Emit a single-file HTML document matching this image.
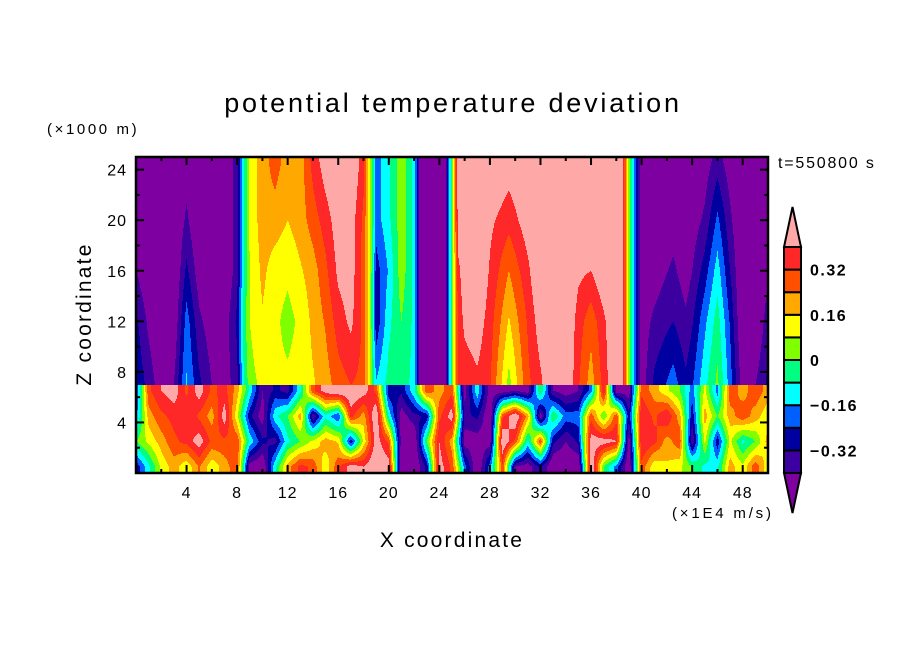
<!DOCTYPE html>
<html><head><meta charset="utf-8"><style>
body{margin:0;background:#fff;width:904px;height:654px;overflow:hidden;position:relative;font-family:"Liberation Sans",sans-serif}
#plot{position:absolute;left:136px;top:157px;width:632px;height:316px;image-rendering:pixelated}
svg{position:absolute;left:0;top:0}
text{font-family:"Liberation Sans",sans-serif;fill:#000}
</style></head><body>
<canvas id="plot" width="632" height="316"></canvas>
<svg id="ov" width="904" height="654">
<text x="453" y="112" font-size="27" text-anchor="middle" letter-spacing="2.8">potential temperature deviation</text>
<text x="47" y="134" font-size="15" letter-spacing="2.6">(×1000 m)</text>
<text x="778" y="168" font-size="16" letter-spacing="1.8">t=550800 s</text>
<text x="672" y="518" font-size="15" letter-spacing="2.8">(×1E4 m/s)</text>
<text x="452" y="547" font-size="21" text-anchor="middle" letter-spacing="2.2">X coordinate</text>
<text transform="translate(91,314) rotate(-90)" font-size="21" text-anchor="middle" letter-spacing="2.2">Z coordinate</text>
<g id="axes"></g><g id="cbar"></g>
</svg>
<script>
// ---- data (field value in K) ----
const upX=[0,1,2,3,4,5,6,7,8,8.5,9,10,11,12,13,14,15,16,17,18,18.5,19,20,21,22,22.5,23,24,24.5,25,25.5,26,27,28,29.5,31,32,33,34,35,36,37,38,38.5,39,40,41,42.5,43.5,44,45,46,47,48,49,50];
const upZ=[7,12,16,20,24.7];
const up8=[-0.25,-0.35,-0.45,-0.4,-0.15,-0.3,-0.4,-0.45,-0.35,-0.1,0.05,0.1,0.1,0.1,0.12,0.15,0.2,0.28,0.32,0.3,0.1,-0.15,-0.05,-0.05,-0.1,-0.45,-0.5,-0.5,-0.4,0.0,0.35,0.35,0.38,0.33,0.05,0.3,0.38,0.5,0.5,0.33,0.2,0.35,0.5,0.42,0.05,-0.45,-0.3,-0.2,-0.3,-0.25,-0.1,0.02,-0.2,-0.45,-0.4,-0.3];
const up12=[-0.3,-0.42,-0.5,-0.48,-0.2,-0.38,-0.45,-0.45,-0.3,-0.05,0.08,0.15,0.1,0.05,0.1,0.18,0.25,0.36,0.42,0.3,0.1,-0.3,-0.1,0.0,-0.1,-0.45,-0.5,-0.5,-0.4,0.0,0.35,0.42,0.45,0.36,0.15,0.33,0.45,0.5,0.5,0.36,0.27,0.38,0.5,0.42,0.05,-0.45,-0.38,-0.32,-0.38,-0.33,-0.18,-0.04,-0.25,-0.5,-0.5,-0.35];
const up16=[-0.4,-0.48,-0.5,-0.5,-0.3,-0.45,-0.5,-0.5,-0.35,-0.1,0.08,0.18,0.12,0.1,0.15,0.2,0.3,0.42,0.45,0.28,0.1,-0.28,-0.15,0.05,-0.1,-0.45,-0.5,-0.5,-0.4,0.0,0.38,0.45,0.5,0.39,0.24,0.38,0.5,0.5,0.5,0.42,0.4,0.48,0.5,0.42,0.05,-0.45,-0.45,-0.38,-0.45,-0.4,-0.28,-0.12,-0.32,-0.5,-0.5,-0.42];
const up20=[-0.45,-0.5,-0.5,-0.5,-0.38,-0.5,-0.5,-0.5,-0.35,-0.1,0.1,0.2,0.2,0.16,0.2,0.28,0.36,0.45,0.45,0.3,0.1,-0.2,-0.1,0.05,-0.1,-0.45,-0.5,-0.5,-0.4,0.0,0.45,0.5,0.5,0.42,0.35,0.45,0.5,0.5,0.5,0.5,0.5,0.5,0.5,0.42,0.05,-0.45,-0.5,-0.45,-0.48,-0.45,-0.38,-0.22,-0.38,-0.5,-0.5,-0.5];
const up24=[-0.5,-0.5,-0.5,-0.5,-0.45,-0.5,-0.5,-0.5,-0.35,-0.1,0.1,0.2,0.28,0.2,0.2,0.35,0.45,0.5,0.5,0.35,0.1,-0.2,-0.1,0.05,-0.1,-0.45,-0.5,-0.5,-0.4,0.0,0.5,0.5,0.5,0.5,0.45,0.5,0.5,0.5,0.5,0.5,0.5,0.5,0.5,0.42,0.05,-0.45,-0.5,-0.5,-0.5,-0.5,-0.45,-0.36,-0.45,-0.5,-0.5,-0.5];
const lowZ=[0.5,2.5,4.5,6.5];
const low0=[-0.3,-0.1,0.1,0.2,0.1,0.25,0.1,0.2,0.3,-0.45,-0.5,-0.1,0.2,0.35,0.3,0.1,0.3,0.45,0.4,0.5,0.45,-0.5,-0.5,-0.3,0.45,0.3,-0.2,-0.5,-0.2,0.3,-0.4,-0.45,-0.3,-0.5,-0.5,-0.5,0.5,0.0,-0.2,-0.5,0.3,0.1,0.15,0.1,0.0,-0.1,-0.1,0.2,0.1,0.3,0.1];
const low2=[0.0,0.1,0.2,0.3,0.35,0.45,0.3,0.3,0.3,-0.1,-0.3,-0.35,-0.1,0.0,0.1,0.2,0.15,-0.3,0.1,0.45,0.3,-0.45,-0.5,0.0,0.4,0.2,-0.45,-0.45,-0.45,0.5,0.3,-0.1,0.3,-0.3,-0.4,-0.3,0.45,0.45,0.4,-0.45,0.4,0.35,0.2,0.3,-0.4,0.1,-0.3,0.1,-0.1,0.0,0.2];
const low4=[-0.2,0.2,0.3,0.35,0.4,0.3,0.2,0.45,0.1,-0.3,-0.45,-0.1,0.0,0.2,-0.4,-0.1,-0.25,0.35,0.2,0.5,-0.1,-0.45,-0.35,-0.3,0.3,0.45,-0.35,-0.3,-0.5,0.3,0.5,0.2,-0.45,0.0,-0.2,-0.2,0.3,0.0,0.3,-0.3,0.4,0.3,0.4,0.2,-0.3,0.2,0.0,0.2,0.3,0.2,0.1];
const low6=[-0.25,0.3,0.4,0.45,0.3,0.45,0.3,0.35,0.2,-0.1,-0.4,-0.3,-0.35,-0.1,0.3,0.45,0.5,0.5,0.45,0.3,-0.3,-0.3,-0.1,0.3,0.2,0.3,-0.45,-0.1,-0.45,-0.45,-0.4,-0.45,0.0,-0.4,-0.45,-0.4,-0.2,0.4,-0.45,-0.45,0.3,0.2,0.1,0.0,-0.2,0.1,-0.2,0.3,0.2,0.3,0.2];
const levels=[-0.40,-0.32,-0.24,-0.16,-0.08,0,0.08,0.16,0.24,0.32,0.40];
const colors=["#7f00a0","#3c00a0","#0000a0","#0060ff","#00ffff","#00ff80","#80ff00","#ffff00","#ffa800","#ff5000","#ff2828","#ffa8a8"];
const cbLabels=["0.32","0.16","0","−0.16","−0.32"];
const cbLabelVals=[0.32,0.16,0,-0.16,-0.32];
const xTicks=[4,8,12,16,20,24,28,32,36,40,44,48];
const yTicks=[4,8,12,16,20,24];
// ---- scales ----
const X0=136,X1=768,Y0=473,Y1=157,xMax=50,zMax=25;
const sx=v=>X0+(v/xMax)*(X1-X0), sz=v=>Y0-(v/zMax)*(Y0-Y1);
function interp(xs,ys,v){if(v<=xs[0])return ys[0];for(let i=1;i<xs.length;i++){if(v<=xs[i]){const t=(v-xs[i-1])/(xs[i]-xs[i-1]);return ys[i-1]+t*(ys[i]-ys[i-1]);}}return ys[ys.length-1];}
const upRows=[up8,up12,up16,up20,up24],lowRows=[low0,low2,low4,low6];
const lowX=low0.map((_,i)=>i);
const hex=c=>[parseInt(c.slice(1,3),16),parseInt(c.slice(3,5),16),parseInt(c.slice(5,7),16)];
const rgb=colors.map(hex);
const cv=document.getElementById('plot'),ctx=cv.getContext('2d');
const img=ctx.createImageData(632,316);
for(let px=0;px<632;px++){
  const x=(px+0.5)/632*xMax;
  const uc=upRows.map(r=>interp(upX,r,x)), lc=lowRows.map(r=>interp(lowX,r,x));
  for(let py=0;py<316;py++){
    const z=zMax-(py+0.5)/316*zMax;
    const v=z>=7?interp(upZ,uc,z):interp(lowZ,lc,z);
    let k=0;while(k<levels.length&&v>=levels[k])k++;
    const c=rgb[k],o=(py*632+px)*4;
    img.data[o]=c[0];img.data[o+1]=c[1];img.data[o+2]=c[2];img.data[o+3]=255;
  }
}
ctx.putImageData(img,0,0);
// ---- axes ----
const NS='http://www.w3.org/2000/svg';
function mk(tag,attrs,parent){const e=document.createElementNS(NS,tag);for(const k in attrs)e.setAttribute(k,attrs[k]);parent.appendChild(e);return e;}
const ax=document.getElementById('axes');
const frame=mk('rect',{x:X0,y:Y1,width:X1-X0,height:Y0-Y1,fill:'none',stroke:'#000','stroke-width':2.5},ax);


for(let v=2;v<xMax;v+=2){const L=v%4===0?8:4,x=sx(v);
  mk('line',{x1:x,x2:x,y1:Y0,y2:Y0-L,stroke:'#000','stroke-width':2},ax);
  mk('line',{x1:x,x2:x,y1:Y1,y2:Y1+L,stroke:'#000','stroke-width':2},ax);}
for(let v=2;v<zMax;v+=2){const L=v%4===0?8:4,y=sz(v);
  mk('line',{x1:X0,x2:X0+L,y1:y,y2:y,stroke:'#000','stroke-width':2},ax);
  mk('line',{x1:X1,x2:X1-L,y1:y,y2:y,stroke:'#000','stroke-width':2},ax);}
xTicks.forEach(v=>{const t=mk('text',{x:sx(v),y:Y0+25,'font-size':16,'letter-spacing':1,'text-anchor':'middle'},ax);t.textContent=v;
  
  });
yTicks.forEach(v=>{const t=mk('text',{x:X0-9,y:sz(v)+6,'font-size':16,'letter-spacing':1,'text-anchor':'end'},ax);t.textContent=v;
  
  });
// ---- colorbar ----
const cb=document.getElementById('cbar');
const CX0=784,CX1=801,CT=247,CB=473,bandH=(CB-CT)/10;
const cbY=v=>CB-(v-levels[0])/(levels[10]-levels[0])*(CB-CT);
for(let i=1;i<=10;i++){const r=mk('rect',{x:CX0,y:cbY(levels[i]),width:CX1-CX0,height:bandH,fill:colors[i],stroke:'#000','stroke-width':2},cb);
  
  }
const tt=mk('polygon',{points:`${CX0},${CT} ${CX1},${CT} ${(CX0+CX1)/2},207`,fill:colors[11],stroke:'#000','stroke-width':2},cb);


const bt=mk('polygon',{points:`${CX0},${CB} ${CX1},${CB} ${(CX0+CX1)/2},513`,fill:colors[0],stroke:'#000','stroke-width':2},cb);


cbLabels.forEach((s,i)=>{const t=mk('text',{x:810,y:cbY(cbLabelVals[i])+6,'font-size':16,'font-weight':'bold','letter-spacing':1.5},cb);t.textContent=s;
  
  });
</script>
</body></html>
